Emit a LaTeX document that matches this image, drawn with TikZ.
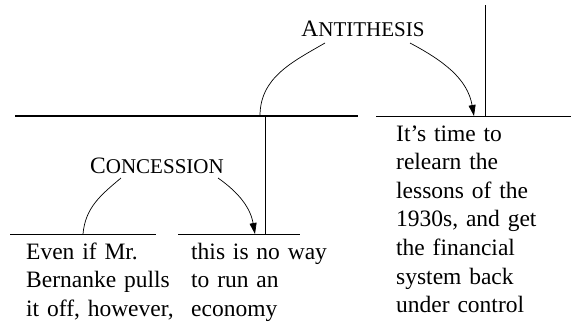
\documentclass[tikz,border=0pt]{standalone}
\usepackage{fontspec}
\setmainfont{Liberation Serif}
\usetikzlibrary{arrows.meta}
\begin{document}
\begin{tikzpicture}[x=1pt,y=-1pt,
  seg/.style={line width=1pt},
  thickseg/.style={line width=1.8pt},
  rel/.style={line width=0.7pt},
  relarrow/.style={rel,-{Triangle[length=11pt,width=7pt]}},
  body/.style={inner sep=0pt, anchor=base west, text width=180pt, align=left, font=\fontsize{23.5}{28.6}\selectfont},
  lab/.style={inner sep=0pt, anchor=base}]
\useasboundingbox (0,0) rectangle (571,324);
% spans
\coordinate (ul1) at (15,116);  \coordinate (ul2) at (358,116);
\coordinate (ur1) at (376,116); \coordinate (ur2) at (571,116);
\coordinate (ll1) at (10,234);  \coordinate (ll2) at (156,234);
\coordinate (lm1) at (178,234); \coordinate (lm2) at (300,234);
\coordinate (topv1) at (485,5); \coordinate (topv2) at (485,116);
\coordinate (midv1) at (265,116); \coordinate (midv2) at (265,234);
\draw[thickseg] (ul1) -- (ul2);
\draw[seg] (ur1) -- (ur2);
\draw[seg] (ll1) -- (ll2);
\draw[seg] (lm1) -- (lm2);
\draw[seg] (topv1) -- (topv2);
\draw[seg] (midv1) -- (midv2);
% labels
\node[lab] (anti) at (363,36) {\fontsize{23.5}{28}\selectfont A\fontsize{21}{28}\selectfont NTITHESIS};
\node[lab] (conc) at (157,173) {\fontsize{23.5}{28}\selectfont C\fontsize{21}{28}\selectfont ONCESSION};
% relation arcs
\coordinate (aS) at (260,116); \coordinate (aL) at (325,43);
\coordinate (aR) at (410,43);  \coordinate (aE) at (474,116);
\draw[rel] (aS) to[out=90,in=210] (aL);
\draw[relarrow] (aR) to[out=-28,in=100] (aE);
\coordinate (cS) at (83,234); \coordinate (cL) at (121,178);
\coordinate (cR) at (218,178); \coordinate (cE) at (255,234);
\draw[rel] (cS) to[out=85,in=220] (cL);
\draw[relarrow] (cR) to[out=-35,in=100] (cE);
% texts
\node[body] (t1) at (26,259) {Even if Mr.\\Bernanke pulls\\it off, however,};
\node[body] (t2) at (191,259) {this is no way\\to run an\\economy};
\node[body] (t3) at (396,141) {It’s time to\\relearn the\\lessons of the\\1930s, and get\\the financial\\system back\\under control};
\end{tikzpicture}
\end{document}
